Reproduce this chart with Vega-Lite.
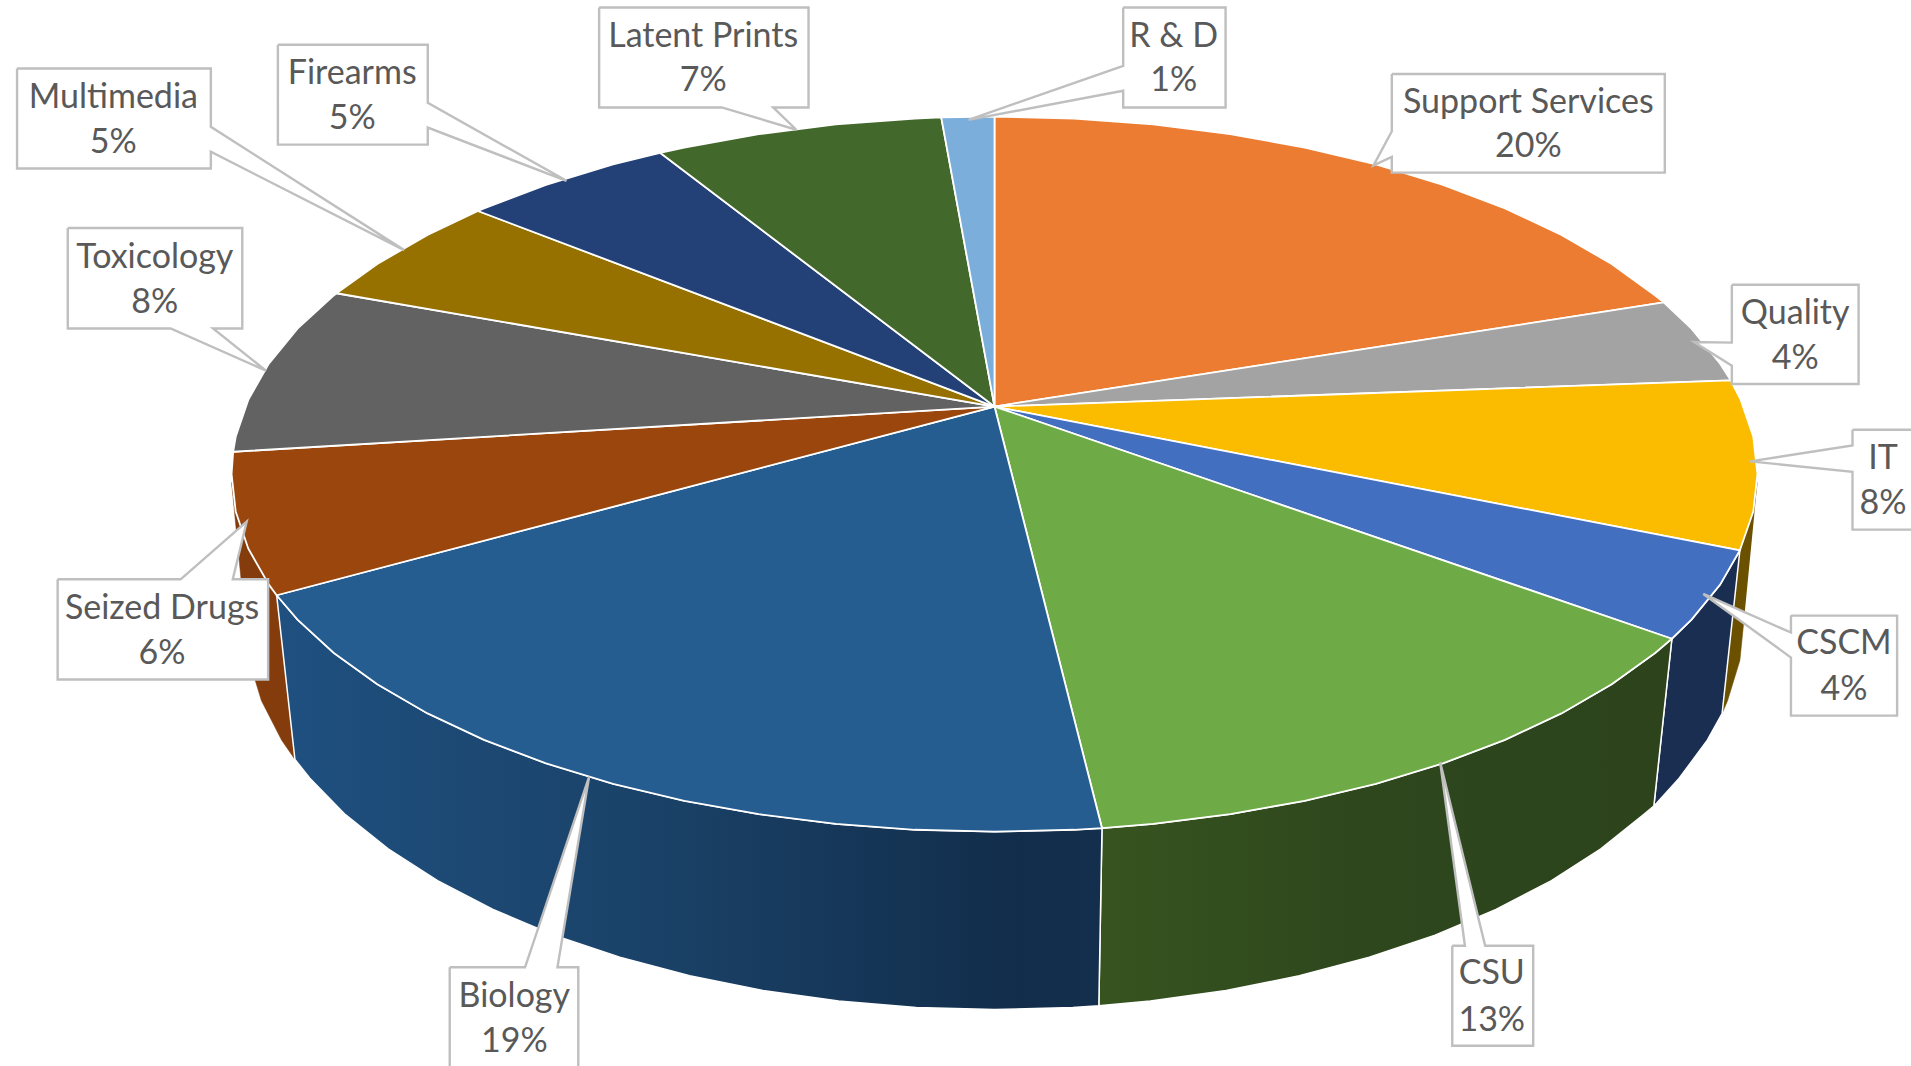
{"$schema":"https://vega.github.io/schema/vega-lite/v6.json","width":1911,"height":1066,"autosize":"none","padding":0,"background":"white","view":{"stroke":null},
"datasets":{
"slices":[
{"slice":"Support Services","i":0,"x":816,"y":333},{"slice":"Support Services","i":1,"x":816,"y":95},{"slice":"Support Services","i":2,"x":881.4,"y":96.6},{"slice":"Support Services","i":3,"x":946.2,"y":101.4},{"slice":"Support Services","i":4,"x":1009.4,"y":109.4},{"slice":"Support Services","i":5,"x":1070.6,"y":120.4},{"slice":"Support Services","i":6,"x":1129,"y":134.3},{"slice":"Support Services","i":7,"x":1184,"y":151.1},{"slice":"Support Services","i":8,"x":1234.9,"y":170.4},{"slice":"Support Services","i":9,"x":1281.2,"y":192.1},{"slice":"Support Services","i":10,"x":1322.4,"y":216},{"slice":"Support Services","i":11,"x":1358.1,"y":241.8},{"slice":"Support Services","i":12,"x":1365.1,"y":247.5},{"slice":"Support Services","i":13,"x":816,"y":333},
{"slice":"Quality","i":0,"x":816,"y":333},{"slice":"Quality","i":1,"x":1365.1,"y":247.5},{"slice":"Quality","i":2,"x":1387.9,"y":269.1},{"slice":"Quality","i":3,"x":1411.4,"y":297.8},{"slice":"Quality","i":4,"x":1420.1,"y":311.5},{"slice":"Quality","i":5,"x":816,"y":333},
{"slice":"IT","i":0,"x":816,"y":333},{"slice":"IT","i":1,"x":1420.1,"y":311.5},{"slice":"IT","i":2,"x":1428.3,"y":327.5},{"slice":"IT","i":3,"x":1438.6,"y":357.8},{"slice":"IT","i":4,"x":1442,"y":388.5},{"slice":"IT","i":5,"x":1438.6,"y":419.2},{"slice":"IT","i":6,"x":1427.6,"y":451},{"slice":"IT","i":7,"x":816,"y":333},
{"slice":"CSCM","i":0,"x":816,"y":333},{"slice":"CSCM","i":1,"x":1427.6,"y":451},{"slice":"CSCM","i":2,"x":1411.4,"y":479.2},{"slice":"CSCM","i":3,"x":1387.9,"y":507.9},{"slice":"CSCM","i":4,"x":1371.8,"y":523.6},{"slice":"CSCM","i":5,"x":816,"y":333},
{"slice":"CSU","i":0,"x":816,"y":333},{"slice":"CSU","i":1,"x":1371.8,"y":523.6},{"slice":"CSU","i":2,"x":1358.1,"y":535.3},{"slice":"CSU","i":3,"x":1322.4,"y":561},{"slice":"CSU","i":4,"x":1281.2,"y":584.9},{"slice":"CSU","i":5,"x":1234.9,"y":606.6},{"slice":"CSU","i":6,"x":1184,"y":625.9},{"slice":"CSU","i":7,"x":1129,"y":642.7},{"slice":"CSU","i":8,"x":1070.6,"y":656.6},{"slice":"CSU","i":9,"x":1009.4,"y":667.6},{"slice":"CSU","i":10,"x":946.2,"y":675.6},{"slice":"CSU","i":11,"x":904.2,"y":679.1},{"slice":"CSU","i":12,"x":816,"y":333},
{"slice":"Biology","i":0,"x":816,"y":333},{"slice":"Biology","i":1,"x":904.2,"y":679.1},{"slice":"Biology","i":2,"x":881.4,"y":680.4},{"slice":"Biology","i":3,"x":816,"y":682},{"slice":"Biology","i":4,"x":750.6,"y":680.4},{"slice":"Biology","i":5,"x":685.8,"y":675.6},{"slice":"Biology","i":6,"x":622.6,"y":667.6},{"slice":"Biology","i":7,"x":561.4,"y":656.6},{"slice":"Biology","i":8,"x":503,"y":642.7},{"slice":"Biology","i":9,"x":448,"y":625.9},{"slice":"Biology","i":10,"x":397.1,"y":606.6},{"slice":"Biology","i":11,"x":350.8,"y":584.9},{"slice":"Biology","i":12,"x":309.6,"y":561},{"slice":"Biology","i":13,"x":273.9,"y":535.3},{"slice":"Biology","i":14,"x":244.1,"y":507.9},{"slice":"Biology","i":15,"x":227,"y":487.9},{"slice":"Biology","i":16,"x":816,"y":333},
{"slice":"Seized Drugs","i":0,"x":816,"y":333},{"slice":"Seized Drugs","i":1,"x":227,"y":487.9},{"slice":"Seized Drugs","i":2,"x":220.6,"y":479.2},{"slice":"Seized Drugs","i":3,"x":203.7,"y":449.5},{"slice":"Seized Drugs","i":4,"x":193.4,"y":419.2},{"slice":"Seized Drugs","i":5,"x":190,"y":388.5},{"slice":"Seized Drugs","i":6,"x":191.3,"y":370.1},{"slice":"Seized Drugs","i":7,"x":816,"y":333},
{"slice":"Toxicology","i":0,"x":816,"y":333},{"slice":"Toxicology","i":1,"x":191.3,"y":370.1},{"slice":"Toxicology","i":2,"x":193.4,"y":357.8},{"slice":"Toxicology","i":3,"x":203.7,"y":327.5},{"slice":"Toxicology","i":4,"x":220.6,"y":297.8},{"slice":"Toxicology","i":5,"x":244.1,"y":269.1},{"slice":"Toxicology","i":6,"x":273.9,"y":241.8},{"slice":"Toxicology","i":7,"x":276.1,"y":240},{"slice":"Toxicology","i":8,"x":816,"y":333},
{"slice":"Multimedia","i":0,"x":816,"y":333},{"slice":"Multimedia","i":1,"x":276.1,"y":240},{"slice":"Multimedia","i":2,"x":309.6,"y":216},{"slice":"Multimedia","i":3,"x":350.8,"y":192.1},{"slice":"Multimedia","i":4,"x":392.2,"y":172.5},{"slice":"Multimedia","i":5,"x":816,"y":333},
{"slice":"Firearms","i":0,"x":816,"y":333},{"slice":"Firearms","i":1,"x":392.2,"y":172.5},{"slice":"Firearms","i":2,"x":397.1,"y":170.4},{"slice":"Firearms","i":3,"x":448,"y":151.1},{"slice":"Firearms","i":4,"x":503,"y":134.3},{"slice":"Firearms","i":5,"x":541.6,"y":124.7},{"slice":"Firearms","i":6,"x":816,"y":333},
{"slice":"Latent Prints","i":0,"x":816,"y":333},{"slice":"Latent Prints","i":1,"x":541.6,"y":124.7},{"slice":"Latent Prints","i":2,"x":561.4,"y":120.4},{"slice":"Latent Prints","i":3,"x":622.6,"y":109.4},{"slice":"Latent Prints","i":4,"x":685.8,"y":101.4},{"slice":"Latent Prints","i":5,"x":750.6,"y":96.6},{"slice":"Latent Prints","i":6,"x":772.3,"y":95.7},{"slice":"Latent Prints","i":7,"x":816,"y":333},
{"slice":"R & D","i":0,"x":816,"y":333},{"slice":"R & D","i":1,"x":772.3,"y":95.7},{"slice":"R & D","i":2,"x":816,"y":95},{"slice":"R & D","i":3,"x":816,"y":333}
],
"walls":[
{"slice":"IT","i":0,"x":1442,"y":395},{"slice":"IT","i":1,"x":1438.6,"y":419.2},{"slice":"IT","i":2,"x":1427.6,"y":451},{"slice":"IT","i":3,"x":1413,"y":585},{"slice":"IT","i":4,"x":1417.5,"y":574.5},{"slice":"IT","i":5,"x":1427.6,"y":541.4},{"slice":"IT","i":6,"x":1431,"y":508},
{"slice":"CSCM","i":0,"x":1427.6,"y":451},{"slice":"CSCM","i":1,"x":1411.4,"y":479.2},{"slice":"CSCM","i":2,"x":1387.9,"y":507.9},{"slice":"CSCM","i":3,"x":1371.8,"y":523.6},{"slice":"CSCM","i":4,"x":1357,"y":661},{"slice":"CSCM","i":5,"x":1377.8,"y":638.1},{"slice":"CSCM","i":6,"x":1400.9,"y":606.9},{"slice":"CSCM","i":7,"x":1413,"y":585},{"slice":"CSCM","i":8,"x":1427.6,"y":451},
{"slice":"CSU","i":0,"x":1371.8,"y":523.6},{"slice":"CSU","i":1,"x":1358.1,"y":535.3},{"slice":"CSU","i":2,"x":1322.4,"y":561},{"slice":"CSU","i":3,"x":1281.2,"y":584.9},{"slice":"CSU","i":4,"x":1234.9,"y":606.6},{"slice":"CSU","i":5,"x":1184,"y":625.9},{"slice":"CSU","i":6,"x":1129,"y":642.7},{"slice":"CSU","i":7,"x":1070.6,"y":656.6},{"slice":"CSU","i":8,"x":1009.4,"y":667.6},{"slice":"CSU","i":9,"x":946.2,"y":675.6},{"slice":"CSU","i":10,"x":904.2,"y":679.1},{"slice":"CSU","i":11,"x":901.6,"y":824.9},{"slice":"CSU","i":12,"x":943.9,"y":821},{"slice":"CSU","i":13,"x":1006,"y":812.4},{"slice":"CSU","i":14,"x":1066.1,"y":800.3},{"slice":"CSU","i":15,"x":1123.5,"y":785.1},{"slice":"CSU","i":16,"x":1177.5,"y":766.9},{"slice":"CSU","i":17,"x":1227.5,"y":745.8},{"slice":"CSU","i":18,"x":1273,"y":722.1},{"slice":"CSU","i":19,"x":1313.5,"y":696.1},{"slice":"CSU","i":20,"x":1348.6,"y":668},{"slice":"CSU","i":21,"x":1357,"y":661},{"slice":"CSU","i":22,"x":1371.8,"y":523.6},
{"slice":"Biology","i":0,"x":904.2,"y":679.1},{"slice":"Biology","i":1,"x":881.4,"y":680.4},{"slice":"Biology","i":2,"x":816,"y":682},{"slice":"Biology","i":3,"x":750.6,"y":680.4},{"slice":"Biology","i":4,"x":685.8,"y":675.6},{"slice":"Biology","i":5,"x":622.6,"y":667.6},{"slice":"Biology","i":6,"x":561.4,"y":656.6},{"slice":"Biology","i":7,"x":503,"y":642.7},{"slice":"Biology","i":8,"x":448,"y":625.9},{"slice":"Biology","i":9,"x":397.1,"y":606.6},{"slice":"Biology","i":10,"x":350.8,"y":584.9},{"slice":"Biology","i":11,"x":309.6,"y":561},{"slice":"Biology","i":12,"x":273.9,"y":535.3},{"slice":"Biology","i":13,"x":244.1,"y":507.9},{"slice":"Biology","i":14,"x":227,"y":487.9},{"slice":"Biology","i":15,"x":242,"y":622.7},{"slice":"Biology","i":16,"x":254.2,"y":638.1},{"slice":"Biology","i":17,"x":283.4,"y":668},{"slice":"Biology","i":18,"x":318.5,"y":696.1},{"slice":"Biology","i":19,"x":359,"y":722.1},{"slice":"Biology","i":20,"x":404.5,"y":745.8},{"slice":"Biology","i":21,"x":454.5,"y":766.9},{"slice":"Biology","i":22,"x":508.5,"y":785.1},{"slice":"Biology","i":23,"x":565.9,"y":800.3},{"slice":"Biology","i":24,"x":626,"y":812.4},{"slice":"Biology","i":25,"x":688.1,"y":821},{"slice":"Biology","i":26,"x":751.7,"y":826.2},{"slice":"Biology","i":27,"x":816,"y":828},{"slice":"Biology","i":28,"x":880.3,"y":826.2},{"slice":"Biology","i":29,"x":901.6,"y":824.9},{"slice":"Biology","i":30,"x":904.2,"y":679.1},
{"slice":"Seized Drugs","i":0,"x":227,"y":487.9},{"slice":"Seized Drugs","i":1,"x":220.6,"y":479.2},{"slice":"Seized Drugs","i":2,"x":203.7,"y":449.5},{"slice":"Seized Drugs","i":3,"x":193.4,"y":419.2},{"slice":"Seized Drugs","i":4,"x":190,"y":395},{"slice":"Seized Drugs","i":5,"x":201,"y":508},{"slice":"Seized Drugs","i":6,"x":204.4,"y":541.4},{"slice":"Seized Drugs","i":7,"x":214.5,"y":574.5},{"slice":"Seized Drugs","i":8,"x":231.1,"y":606.9},{"slice":"Seized Drugs","i":9,"x":242,"y":622.7}
],
"callouts":[
{"c":"Support Services","i":0,"x":1142,"y":60},{"c":"Support Services","i":1,"x":1366,"y":60},{"c":"Support Services","i":2,"x":1366,"y":141},{"c":"Support Services","i":3,"x":1142,"y":141},{"c":"Support Services","i":4,"x":1142,"y":128},{"c":"Support Services","i":5,"x":1127,"y":135},{"c":"Support Services","i":6,"x":1142,"y":107},{"c":"Support Services","i":7,"x":1142,"y":60},
{"c":"Quality","i":0,"x":1421,"y":233},{"c":"Quality","i":1,"x":1525,"y":233},{"c":"Quality","i":2,"x":1525,"y":314.5},{"c":"Quality","i":3,"x":1421,"y":314.5},{"c":"Quality","i":4,"x":1421,"y":299.5},{"c":"Quality","i":5,"x":1390,"y":280},{"c":"Quality","i":6,"x":1421,"y":280.5},{"c":"Quality","i":7,"x":1421,"y":233},
{"c":"IT","i":0,"x":1520,"y":352},{"c":"IT","i":1,"x":1580,"y":352},{"c":"IT","i":2,"x":1580,"y":434},{"c":"IT","i":3,"x":1520,"y":434},{"c":"IT","i":4,"x":1520,"y":386.5},{"c":"IT","i":5,"x":1436,"y":378},{"c":"IT","i":6,"x":1520,"y":365},{"c":"IT","i":7,"x":1520,"y":352},
{"c":"CSCM","i":0,"x":1469.5,"y":504.6},{"c":"CSCM","i":1,"x":1556.6,"y":504.6},{"c":"CSCM","i":2,"x":1556.6,"y":586.7},{"c":"CSCM","i":3,"x":1469.5,"y":586.7},{"c":"CSCM","i":4,"x":1469.5,"y":539},{"c":"CSCM","i":5,"x":1397.6,"y":486.8},{"c":"CSCM","i":6,"x":1469.5,"y":518.5},{"c":"CSCM","i":7,"x":1469.5,"y":504.6},
{"c":"CSU","i":0,"x":1191.6,"y":775.6},{"c":"CSU","i":1,"x":1202,"y":775.6},{"c":"CSU","i":2,"x":1181.7,"y":625},{"c":"CSU","i":3,"x":1218.6,"y":775.6},{"c":"CSU","i":4,"x":1258,"y":775.6},{"c":"CSU","i":5,"x":1258,"y":857.7},{"c":"CSU","i":6,"x":1191.6,"y":857.7},{"c":"CSU","i":7,"x":1191.6,"y":775.6},
{"c":"Biology","i":0,"x":369,"y":793.3},{"c":"Biology","i":1,"x":430.8,"y":793.3},{"c":"Biology","i":2,"x":483.4,"y":636.7},{"c":"Biology","i":3,"x":457.4,"y":793.3},{"c":"Biology","i":4,"x":474.5,"y":793.3},{"c":"Biology","i":5,"x":474.5,"y":885},{"c":"Biology","i":6,"x":369,"y":885},{"c":"Biology","i":7,"x":369,"y":793.3},
{"c":"Seized Drugs","i":0,"x":47.3,"y":474.8},{"c":"Seized Drugs","i":1,"x":148.2,"y":474.8},{"c":"Seized Drugs","i":2,"x":202.4,"y":427.5},{"c":"Seized Drugs","i":3,"x":191,"y":474.8},{"c":"Seized Drugs","i":4,"x":220,"y":474.8},{"c":"Seized Drugs","i":5,"x":220,"y":557},{"c":"Seized Drugs","i":6,"x":47.3,"y":557},{"c":"Seized Drugs","i":7,"x":47.3,"y":474.8},
{"c":"Toxicology","i":0,"x":55.6,"y":186.5},{"c":"Toxicology","i":1,"x":198.8,"y":186.5},{"c":"Toxicology","i":2,"x":198.8,"y":268.9},{"c":"Toxicology","i":3,"x":174.8,"y":268.9},{"c":"Toxicology","i":4,"x":218.3,"y":303.6},{"c":"Toxicology","i":5,"x":140,"y":268.9},{"c":"Toxicology","i":6,"x":55.6,"y":268.9},{"c":"Toxicology","i":7,"x":55.6,"y":186.5},
{"c":"Multimedia","i":0,"x":14,"y":55.5},{"c":"Multimedia","i":1,"x":173,"y":55.5},{"c":"Multimedia","i":2,"x":173,"y":103.4},{"c":"Multimedia","i":3,"x":331.6,"y":204.6},{"c":"Multimedia","i":4,"x":173,"y":123.9},{"c":"Multimedia","i":5,"x":173,"y":137.6},{"c":"Multimedia","i":6,"x":14,"y":137.6},{"c":"Multimedia","i":7,"x":14,"y":55.5},
{"c":"Firearms","i":0,"x":228,"y":36},{"c":"Firearms","i":1,"x":351,"y":36},{"c":"Firearms","i":2,"x":351,"y":83.7},{"c":"Firearms","i":3,"x":464.8,"y":147.7},{"c":"Firearms","i":4,"x":351,"y":104},{"c":"Firearms","i":5,"x":351,"y":118},{"c":"Firearms","i":6,"x":228,"y":118},{"c":"Firearms","i":7,"x":228,"y":36},
{"c":"Latent Prints","i":0,"x":491.6,"y":5.5},{"c":"Latent Prints","i":1,"x":663.4,"y":5.5},{"c":"Latent Prints","i":2,"x":663.4,"y":87.5},{"c":"Latent Prints","i":3,"x":634.4,"y":87.5},{"c":"Latent Prints","i":4,"x":653.4,"y":105.8},{"c":"Latent Prints","i":5,"x":592.2,"y":87.5},{"c":"Latent Prints","i":6,"x":491.6,"y":87.5},{"c":"Latent Prints","i":7,"x":491.6,"y":5.5},
{"c":"R & D","i":0,"x":921.6,"y":5.5},{"c":"R & D","i":1,"x":1005.6,"y":5.5},{"c":"R & D","i":2,"x":1005.6,"y":87.5},{"c":"R & D","i":3,"x":921.6,"y":87.5},{"c":"R & D","i":4,"x":921.6,"y":73.8},{"c":"R & D","i":5,"x":794.7,"y":97.7},{"c":"R & D","i":6,"x":921.6,"y":53.3},{"c":"R & D","i":7,"x":921.6,"y":5.5}
],
"labels":[
{"name":"Support Services","pct":"20%","x":1254,"y1":84,"y2":120},
{"name":"Quality","pct":"4%","x":1473,"y1":257,"y2":294},
{"name":"IT","pct":"8%","x":1545,"y1":376,"y2":413},
{"name":"CSCM","pct":"4%","x":1513,"y1":528,"y2":566},
{"name":"CSU","pct":"13%","x":1224,"y1":799,"y2":837},
{"name":"Biology","pct":"19%","x":422,"y1":818,"y2":855},
{"name":"Seized Drugs","pct":"6%","x":133,"y1":499,"y2":536},
{"name":"Toxicology","pct":"8%","x":127,"y1":211,"y2":248},
{"name":"Multimedia","pct":"5%","x":93,"y1":80,"y2":117},
{"name":"Firearms","pct":"5%","x":289,"y1":60,"y2":97},
{"name":"Latent Prints","pct":"7%","x":577,"y1":30,"y2":66},
{"name":"R & D","pct":"1%","x":963,"y1":30,"y2":66}
]},
"encoding":{
"x":{"field":"x","type":"quantitative","scale":{"domain":[0,1568],"nice":false,"zero":false},"axis":null},
"y":{"field":"y","type":"quantitative","scale":{"domain":[-0.7,874.3],"nice":false,"zero":false,"reverse":true},"axis":null}
},
"layer":[
{"data":{"name":"walls"},"transform":[{"filter":"datum.slice==='IT'"}],"mark":{"type":"line","filled":true,"fill":"#6B5000","stroke":"#6B5000","strokeWidth":0.5},"encoding":{"order":{"field":"i","type":"quantitative"}}},
{"data":{"name":"walls"},"transform":[{"filter":"datum.slice==='Seized Drugs'"}],"mark":{"type":"line","filled":true,"fill":"#843C0C","stroke":"#843C0C","strokeWidth":0.5},"encoding":{"order":{"field":"i","type":"quantitative"}}},
{"data":{"name":"walls"},"transform":[{"filter":"datum.slice==='CSCM'"}],"mark":{"type":"line","filled":true,"fill":"#1A2E52","stroke":"white","strokeWidth":1.5},"encoding":{"order":{"field":"i","type":"quantitative"}}},
{"data":{"name":"walls"},"transform":[{"filter":"datum.slice==='CSU'"}],"mark":{"type":"line","filled":true,"fill":{"gradient":"linear","x1":0,"x2":1,"y1":0,"y2":0,"stops":[{"offset":0,"color":"#37541F"},{"offset":0.45,"color":"#2E471D"},{"offset":1,"color":"#2C431C"}]},"stroke":"white","strokeWidth":1.5},"encoding":{"order":{"field":"i","type":"quantitative"}}},
{"data":{"name":"walls"},"transform":[{"filter":"datum.slice==='Biology'"}],"mark":{"type":"line","filled":true,"fill":{"gradient":"linear","x1":0,"x2":1,"y1":0,"y2":0,"stops":[{"offset":0,"color":"#1F5080"},{"offset":0.45,"color":"#1A4268"},{"offset":0.9,"color":"#122D4B"},{"offset":1,"color":"#142F4D"}]},"stroke":"white","strokeWidth":1.5},"encoding":{"order":{"field":"i","type":"quantitative"}}},
{"data":{"name":"slices"},"mark":{"type":"line","filled":true,"stroke":"white","strokeWidth":1.8,"strokeJoin":"round"},"encoding":{"color":{"field":"slice","type":"nominal","legend":null,"scale":{"domain":["Support Services","Quality","IT","CSCM","CSU","Biology","Seized Drugs","Toxicology","Multimedia","Firearms","Latent Prints","R & D"],"range":["#EB7C31","#A3A3A3","#FBBC00","#426FC0","#6EAB46","#255D91","#9A460C","#626262","#967100","#234177","#43682B","#7CAEDC"]}},"order":{"field":"i","type":"quantitative"}}},
{"data":{"name":"callouts"},"mark":{"type":"line","filled":true,"fill":"white","stroke":"#BFBFBF","strokeWidth":2.4,"strokeJoin":"miter"},"encoding":{"detail":{"field":"c","type":"nominal"},"order":{"field":"i","type":"quantitative"}}},
{"data":{"name":"labels"},"mark":{"type":"text","font":"Lato","fontSize":34,"color":"#595959","baseline":"middle","align":"center"},"encoding":{"y":{"field":"y1","type":"quantitative"},"text":{"field":"name"}}},
{"data":{"name":"labels"},"mark":{"type":"text","font":"Lato","fontSize":34,"color":"#595959","baseline":"middle","align":"center"},"encoding":{"y":{"field":"y2","type":"quantitative"},"text":{"field":"pct"}}}
]}
